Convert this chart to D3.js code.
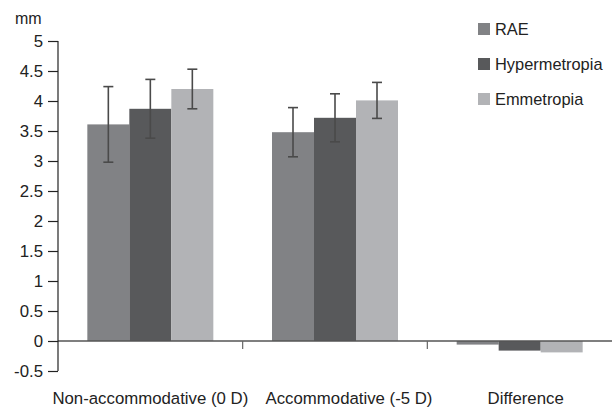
<!DOCTYPE html>
<html><head><meta charset="utf-8">
<script src="https://cdn.jsdelivr.net/npm/d3@7"></script>
<style>body{margin:0;background:#fff}svg{display:block}text{font-family:"Liberation Sans",Arial,Helvetica,sans-serif;fill:#222}</style>
</head><body><svg id="c" width="612" height="409"></svg>
<script>
const categories = ["Non-accommodative (0 D)", "Accommodative (-5 D)", "Difference"];
const seriesNames = ["RAE", "Hypermetropia", "Emmetropia"];
const raeValues = [3.61, 3.48, -0.06];
const raeErrors = [0.63, 0.41, null];
const hyperValues = [3.87, 3.72, -0.16];
const hyperErrors = [0.49, 0.40, null];
const emmValues = [4.20, 4.01, -0.19];
const emmErrors = [0.33, 0.30, null];
const yTicks = [-0.5, 0, 0.5, 1, 1.5, 2, 2.5, 3, 3.5, 4, 4.5, 5];
const colors = ["#818285", "#58595b", "#b2b3b6"];

const values = [raeValues, hyperValues, emmValues];
const errors = [raeErrors, hyperErrors, emmErrors];

const svg = d3.select("#c");
const x0 = d3.scaleBand().domain(categories).range([58, 612]);
const barW = 42;
const x1 = d3.scaleBand().domain(seriesNames).range([0, barW * 3]);
const y = d3.scaleLinear().domain([-0.5, 5]).range([371, 41]);

// bars
categories.forEach((c, ci) => {
  const gx = x0(c) + (x0.bandwidth() - barW * 3) / 2;
  seriesNames.forEach((s, si) => {
    const v = values[si][ci];
    svg.append("rect")
      .attr("x", gx + x1(s))
      .attr("width", x1.bandwidth())
      .attr("y", y(Math.max(0, v)))
      .attr("height", Math.abs(y(v) - y(0)))
      .attr("fill", colors[si]);
  });
});

// error bars
categories.forEach((c, ci) => {
  const gx = x0(c) + (x0.bandwidth() - barW * 3) / 2;
  seriesNames.forEach((s, si) => {
    const e = errors[si][ci];
    if (e == null) return;
    const v = values[si][ci];
    const cx = gx + x1(s) + x1.bandwidth() / 2;
    const g = svg.append("g").attr("stroke", "#4a4a4a").attr("stroke-width", 1.6);
    g.append("line").attr("x1", cx).attr("x2", cx).attr("y1", y(v + e)).attr("y2", y(v - e));
    g.append("line").attr("x1", cx - 5).attr("x2", cx + 5).attr("y1", y(v + e)).attr("y2", y(v + e));
    g.append("line").attr("x1", cx - 5).attr("x2", cx + 5).attr("y1", y(v - e)).attr("y2", y(v - e));
  });
});

// x axis at zero
const xAxisG = svg.append("g").attr("transform", `translate(0,${y(0)})`);
xAxisG.append("line").attr("x1", 58).attr("x2", 612).attr("stroke", "#555").attr("stroke-width", 1.5);
categories.slice(1).forEach(c => {
  xAxisG.append("line").attr("x1", x0(c)).attr("x2", x0(c)).attr("y1", 0).attr("y2", 8)
    .attr("stroke", "#666").attr("stroke-width", 1.2);
});
const labelDx = [0, 14, 6];
categories.forEach((c, i) => {
  svg.append("text").attr("x", x0(c) + x0.bandwidth() / 2 + labelDx[i]).attr("y", 404)
    .attr("text-anchor", "middle").attr("font-size", 16.8).text(c);
});

// y axis
const yAxis = d3.axisLeft(y).tickValues(yTicks).tickSize(10).tickPadding(5).tickFormat(d => String(d));
const yg = svg.append("g").attr("transform", "translate(58,0)").call(yAxis);
yg.select(".domain").attr("stroke", "#222").attr("stroke-width", 1.2).attr("d", `M-0,${y(5)}H0V${y(-0.5)}H-0`);
yg.selectAll(".tick line").attr("stroke", "#222").attr("stroke-width", 1.2);
yg.selectAll(".tick text").attr("font-size", 16.8).attr("fill", "#222")
  .style("font-family", '"Liberation Sans",Arial,Helvetica,sans-serif');

svg.append("text").attr("x", 15).attr("y", 24).attr("font-size", 16).text("mm");

// legend
const leg = svg.append("g");
seriesNames.forEach((s, i) => {
  const ly = 23 + i * 35;
  leg.append("rect").attr("x", 478).attr("y", ly).attr("width", 12).attr("height", 12).attr("fill", colors[i]);
  leg.append("text").attr("x", 495).attr("y", ly + 6).attr("dy", "0.36em").attr("font-size", 16.4).text(s);
});
</script></body></html>
